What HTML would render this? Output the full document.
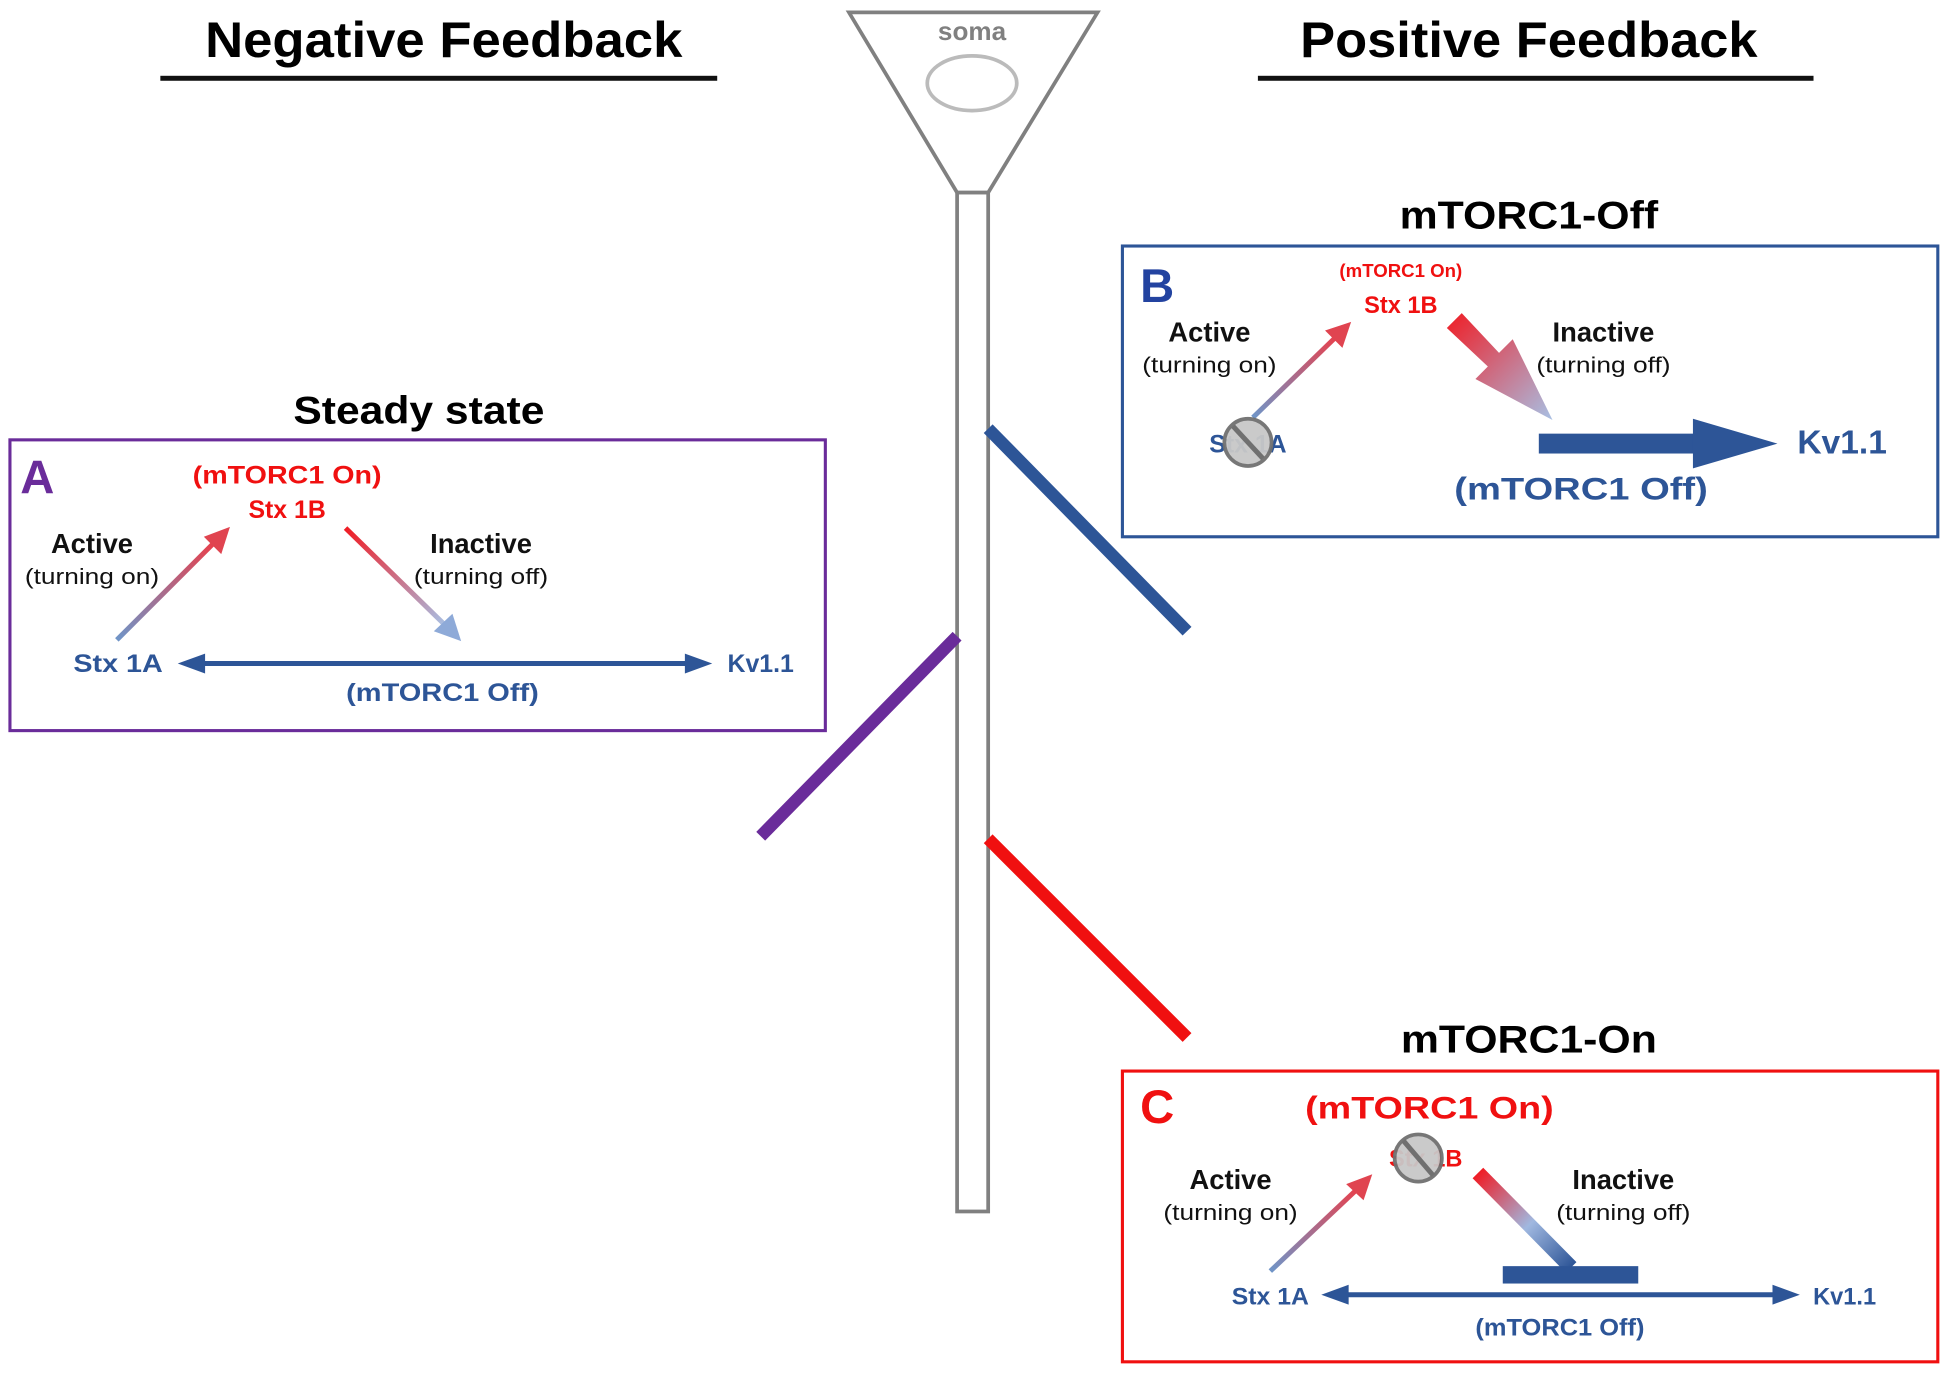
<!DOCTYPE html>
<html><head><meta charset="utf-8"><style>html,body{margin:0;padding:0;background:#fff}svg{display:block}</style></head>
<body>
<svg width="1949" height="1373" viewBox="0 0 1568 1105" preserveAspectRatio="none" xmlns="http://www.w3.org/2000/svg" font-family="Liberation Sans, Arial, sans-serif" font-weight="bold" text-anchor="middle">
<defs>
<linearGradient id="up" x1="0" y1="1" x2="1" y2="0"><stop offset="0" stop-color="#6f95c8"/><stop offset="1" stop-color="#e8404c"/></linearGradient>
<linearGradient id="dn" x1="0" y1="0" x2="1" y2="1"><stop offset="0" stop-color="#f01c24"/><stop offset="1" stop-color="#a8c0e4"/></linearGradient>
<linearGradient id="tb" x1="0" y1="0" x2="1" y2="1"><stop offset="0" stop-color="#f01c24"/><stop offset="0.55" stop-color="#a0b8e0"/><stop offset="1" stop-color="#2d5597"/></linearGradient>
</defs>
<rect width="1568" height="1105" fill="#fff"/>
<text x="357" y="46" font-size="40" textLength="384" lengthAdjust="spacingAndGlyphs">Negative Feedback</text>
<rect x="129" y="61" width="448" height="4" fill="#111"/>
<text x="1230" y="46" font-size="40" textLength="368" lengthAdjust="spacingAndGlyphs">Positive Feedback</text>
<rect x="1012" y="61" width="447" height="4" fill="#111"/>
<path d="M683,10 L883,10 L795,155 L770,155 Z" fill="#fff" stroke="#808080" stroke-width="3"/>
<ellipse cx="782" cy="67" rx="36" ry="22" fill="none" stroke="#bbb" stroke-width="3"/>
<text x="782" y="32" font-size="21" fill="#808080">soma</text>
<rect x="770" y="155" width="25" height="820" fill="#fff" stroke="#808080" stroke-width="3"/>
<line x1="795" y1="345" x2="955" y2="508" stroke="#2d5597" stroke-width="10"/>
<line x1="770" y1="512" x2="612" y2="673" stroke="#6a2c9a" stroke-width="10"/>
<line x1="795" y1="675" x2="955" y2="835" stroke="#f01010" stroke-width="10"/>
<!-- A -->
<text x="337" y="341" font-size="31" textLength="202" lengthAdjust="spacingAndGlyphs">Steady state</text>
<rect x="8" y="354" width="656" height="234" fill="none" stroke="#6a2c9a" stroke-width="2.5"/>
<text x="30" y="397" font-size="38" fill="#6a2c9a">A</text>
<text x="231" y="389" font-size="20" fill="#f01010" textLength="152" lengthAdjust="spacingAndGlyphs">(mTORC1 On)</text>
<text x="231" y="417" font-size="20" fill="#f01010">Stx 1B</text>
<text x="74" y="445" font-size="22" fill="#111">Active</text>
<text x="74" y="470" font-size="18" font-weight="normal" fill="#111" textLength="108" lengthAdjust="spacingAndGlyphs">(turning on)</text>
<text x="387" y="445" font-size="22" fill="#111">Inactive</text>
<text x="387" y="470" font-size="18" font-weight="normal" fill="#111" textLength="108" lengthAdjust="spacingAndGlyphs">(turning off)</text>
<line x1="94" y1="515" x2="172" y2="437" stroke="url(#up)" stroke-width="4"/>
<path d="M185,424 L178,446 L164,432 Z" fill="#e04450"/>
<line x1="278" y1="425" x2="358" y2="503" stroke="url(#dn)" stroke-width="4"/>
<path d="M371,516 L349,508 L364,494 Z" fill="#8eaad8"/>
<text x="95" y="541" font-size="20" fill="#2d5597" textLength="72" lengthAdjust="spacingAndGlyphs">Stx 1A</text>
<line x1="160" y1="534" x2="558" y2="534" stroke="#2d5597" stroke-width="4"/>
<path d="M143,534 L165,526 L165,542 Z M573,534 L551,526 L551,542 Z" fill="#2d5597"/>
<text x="612" y="541" font-size="20" fill="#2d5597">Kv1.1</text>
<text x="356" y="564" font-size="20" fill="#2d5597" textLength="155" lengthAdjust="spacingAndGlyphs">(mTORC1 Off)</text>
<!-- B -->
<text x="1230" y="184" font-size="31" textLength="208" lengthAdjust="spacingAndGlyphs">mTORC1-Off</text>
<rect x="903" y="198" width="656" height="234" fill="none" stroke="#2d5597" stroke-width="2.5"/>
<text x="931" y="243" font-size="38" fill="#2343a0">B</text>
<text x="1127" y="223" font-size="15" fill="#f01010">(mTORC1 On)</text>
<text x="1127" y="252" font-size="19" fill="#f01010">Stx 1B</text>
<text x="973" y="275" font-size="22" fill="#111">Active</text>
<text x="973" y="300" font-size="18" font-weight="normal" fill="#111" textLength="108" lengthAdjust="spacingAndGlyphs">(turning on)</text>
<text x="1290" y="275" font-size="22" fill="#111">Inactive</text>
<text x="1290" y="300" font-size="18" font-weight="normal" fill="#111" textLength="108" lengthAdjust="spacingAndGlyphs">(turning off)</text>
<line x1="1008" y1="336" x2="1076" y2="270" stroke="url(#up)" stroke-width="4"/>
<path d="M1087,259 L1080,280 L1066,266 Z" fill="#e04450"/>
<path d="M1164,264 L1176,252 L1206,284 L1217,273 L1249,338 L1187,305 L1197,295 Z" fill="url(#dn)"/>
<text x="1004" y="364" font-size="20" fill="#2d5597">Stx 1A</text>
<circle cx="1004" cy="356" r="19" fill="#c8c8c8" stroke="#707070" stroke-width="3" opacity="0.95"/>
<line x1="992" y1="343" x2="1016" y2="369" stroke="#707070" stroke-width="4"/>
<rect x="1238" y="349" width="127" height="16" fill="#2d5597"/>
<path d="M1362,337 L1430,357 L1362,377 Z" fill="#2d5597"/>
<text x="1482" y="365" font-size="27" fill="#2d5597">Kv1.1</text>
<text x="1272" y="402" font-size="25" fill="#2d5597" textLength="204" lengthAdjust="spacingAndGlyphs">(mTORC1 Off)</text>
<!-- C -->
<text x="1230" y="847" font-size="31" textLength="206" lengthAdjust="spacingAndGlyphs">mTORC1-On</text>
<rect x="903" y="862" width="656" height="234" fill="none" stroke="#f01010" stroke-width="2.5"/>
<text x="931" y="904" font-size="38" fill="#f01010">C</text>
<text x="1150" y="900" font-size="25" fill="#f01010" textLength="200" lengthAdjust="spacingAndGlyphs">(mTORC1 On)</text>
<text x="1147" y="939" font-size="19" fill="#f01010">Stx 1B</text>
<circle cx="1141" cy="932" r="19" fill="#c8c8c8" stroke="#707070" stroke-width="3" opacity="0.95"/>
<line x1="1129" y1="918" x2="1153" y2="946" stroke="#707070" stroke-width="4"/>
<text x="990" y="957" font-size="22" fill="#111">Active</text>
<text x="990" y="982" font-size="18" font-weight="normal" fill="#111" textLength="108" lengthAdjust="spacingAndGlyphs">(turning on)</text>
<text x="1306" y="957" font-size="22" fill="#111">Inactive</text>
<text x="1306" y="982" font-size="18" font-weight="normal" fill="#111" textLength="108" lengthAdjust="spacingAndGlyphs">(turning off)</text>
<line x1="1022" y1="1023" x2="1093" y2="956" stroke="url(#up)" stroke-width="4"/>
<path d="M1104,945 L1097,966 L1083,953 Z" fill="#e04450"/>
<line x1="1189" y1="944" x2="1264" y2="1020" stroke="url(#tb)" stroke-width="12"/>
<rect x="1209" y="1019" width="109" height="14" fill="#2d5597"/>
<text x="1022" y="1050" font-size="19" fill="#2d5597" textLength="62" lengthAdjust="spacingAndGlyphs">Stx 1A</text>
<line x1="1080" y1="1042" x2="1432" y2="1042" stroke="#2d5597" stroke-width="4"/>
<path d="M1063,1042 L1085,1034 L1085,1050 Z M1448,1042 L1426,1034 L1426,1050 Z" fill="#2d5597"/>
<text x="1484" y="1050" font-size="19" fill="#2d5597">Kv1.1</text>
<text x="1255" y="1075" font-size="19" fill="#2d5597" textLength="136" lengthAdjust="spacingAndGlyphs">(mTORC1 Off)</text>
</svg>
</body></html>
